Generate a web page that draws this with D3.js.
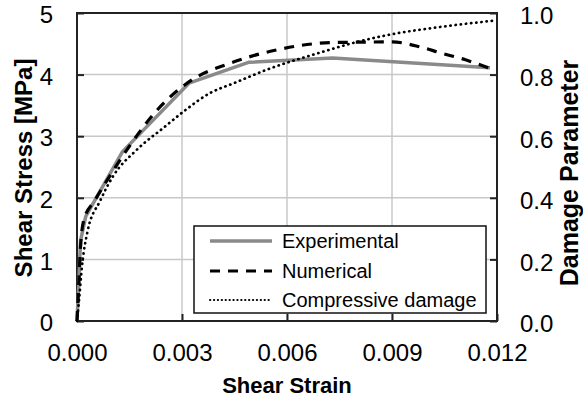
<!DOCTYPE html>
<html><head><meta charset="utf-8">
<script src="https://cdn.jsdelivr.net/npm/d3@7"></script>
<style>body{margin:0;background:#fff}svg{display:block}text{font-family:"Liberation Sans",Arial,sans-serif;fill:#000}</style>
</head><body><svg id="c" width="583" height="403"></svg>
<script>
const xTicks=[0,0.003,0.006,0.009,0.012];
const xTickLabels=["0.000","0.003","0.006","0.009","0.012"];
const yTicks=[0,1,2,3,4,5];
const y2Ticks=[0,0.2,0.4,0.6,0.8,1.0];
const y2TickLabels=["0.0","0.2","0.4","0.6","0.8","1.0"];
const expStrain=[0,0.00005,0.0001,0.00025,0.0013,0.0032,0.0049,0.0073,0.0118];
const expStress=[0,0.6,1.3,1.7,2.75,3.86,4.2,4.27,4.11];
const numStrain=[0,0.00005,0.0001,0.0002,0.0005,0.0009,0.0015,0.0023,0.0033,0.0043,0.0057,0.0073,0.009,0.0098,0.0104,0.0111,0.0118];
const numStress=[0,0.6,1.2,1.65,1.95,2.32,2.84,3.43,3.92,4.17,4.4,4.52,4.53,4.45,4.35,4.24,4.1];
const dmgStrain=[0,0.00006,0.00014,0.0003,0.00066,0.00103,0.0017,0.0025,0.0031,0.0038,0.0045,0.0054,0.0069,0.008,0.0089,0.0104,0.0119];
const dmgValue=[0,0.07,0.175,0.29,0.39,0.47,0.555,0.63,0.685,0.74,0.773,0.815,0.87,0.906,0.929,0.955,0.975];
const legendLabels=["Experimental","Numerical","Compressive damage"];

const svg=d3.select("#c");
const L=77,T=13,W=420,H=308;
const x=d3.scaleLinear().domain([0,0.012]).range([L,L+W]);
const y=d3.scaleLinear().domain([0,5]).range([T+H,T]);
const y2=d3.scaleLinear().domain([0,1]).range([T+H,T]);

// gridlines
const g=svg.append("g");
g.selectAll(".gx").data(xTicks.slice(1,-1)).enter().append("line")
 .attr("x1",d=>x(d)).attr("x2",d=>x(d)).attr("y1",T).attr("y2",T+H)
 .attr("stroke","#c8c8c8").attr("stroke-width",1.5);
g.selectAll(".gy").data(yTicks.slice(1,-1)).enter().append("line")
 .attr("x1",L).attr("x2",L+W).attr("y1",d=>y(d)).attr("y2",d=>y(d))
 .attr("stroke","#c8c8c8").attr("stroke-width",1.5);

// axes
const ax=svg.append("g").attr("transform",`translate(0,${T+H})`)
 .call(d3.axisBottom(x).tickValues(xTicks).tickFormat((d,i)=>xTickLabels[i]).tickSizeInner(-7).tickSizeOuter(0).tickPadding(23));
const ay=svg.append("g").attr("transform",`translate(${L},0)`)
 .call(d3.axisLeft(y).tickValues(yTicks).tickFormat(d3.format("d")).tickSizeInner(-7).tickSizeOuter(0).tickPadding(24));
const ay2=svg.append("g").attr("transform",`translate(${L+W},0)`)
 .call(d3.axisRight(y2).tickValues(y2Ticks).tickFormat((d,i)=>y2TickLabels[i]).tickSizeInner(-7).tickSizeOuter(0).tickPadding(23));
[ax,ay,ay2].forEach(a=>{
  a.select(".domain").remove();
  a.selectAll(".tick line").attr("stroke","#222").attr("stroke-width",2);
  a.selectAll(".tick text").attr("font-size",24).attr("font-family","Liberation Sans, Arial, sans-serif").attr("fill","#000");
});
ay.selectAll(".tick text").attr("dy","0.4em");
ay2.selectAll(".tick text").attr("dy","0.45em");
svg.append("rect").attr("x",L).attr("y",T).attr("width",W).attr("height",H)
 .attr("fill","none").attr("stroke","#222").attr("stroke-width",2);

// lines
const lineExp=d3.line().x((d,i)=>x(expStrain[i])).y(d=>y(d));
svg.append("path").attr("d",lineExp(expStress)).attr("fill","none")
 .attr("stroke","#8a8a8a").attr("stroke-width",3.5).attr("stroke-linejoin","round");
const lineNum=d3.line().x((d,i)=>x(numStrain[i])).y(d=>y(d)).curve(d3.curveMonotoneX);
svg.append("path").attr("d",lineNum(numStress)).attr("fill","none")
 .attr("stroke","#000").attr("stroke-width",3.2).attr("stroke-dasharray","10,8");
const lineDmg=d3.line().x((d,i)=>x(dmgStrain[i])).y(d=>y2(d)).curve(d3.curveMonotoneX);
svg.append("path").attr("d",lineDmg(dmgValue)).attr("fill","none")
 .attr("stroke","#000").attr("stroke-width",2.7).attr("stroke-linecap","round").attr("stroke-dasharray","0.3,4.9");

// legend
const lg=svg.append("g");
lg.append("rect").attr("x",194).attr("y",226).attr("width",292).attr("height",87)
 .attr("fill","#fff").attr("stroke","#111").attr("stroke-width",1.5);
const rowsY=[241,271,300];
const styles=[{c:"#8a8a8a",w:3.5,d:null,cap:"butt"},{c:"#000",w:3.2,d:"10,8",cap:"butt"},{c:"#000",w:2,d:"0.3,3.6",cap:"round"}];
legendLabels.forEach((t,i)=>{
  const l=lg.append("line").attr("x1",210).attr("x2",272).attr("y1",rowsY[i]).attr("y2",rowsY[i])
   .attr("stroke",styles[i].c).attr("stroke-width",styles[i].w).attr("stroke-linecap",styles[i].cap);
  if(styles[i].d) l.attr("stroke-dasharray",styles[i].d);
  lg.append("text").attr("x",282).attr("y",rowsY[i]).attr("dy","0.36em").attr("font-size",20).text(t);
});

// titles
svg.append("text").attr("x",L+W/2).attr("y",393).attr("text-anchor","middle")
 .attr("font-size",22).attr("font-weight","bold").text("Shear Strain");
svg.append("text").attr("transform",`translate(32,${T+H/2+1}) rotate(-90)`).attr("text-anchor","middle")
 .attr("font-size",24).attr("font-weight","bold").text("Shear Stress [MPa]");
svg.append("text").attr("transform",`translate(578,${T+H/2+6}) rotate(-90)`).attr("text-anchor","middle")
 .attr("font-size",25).attr("font-weight","bold").text("Damage Parameter");
</script></body></html>
